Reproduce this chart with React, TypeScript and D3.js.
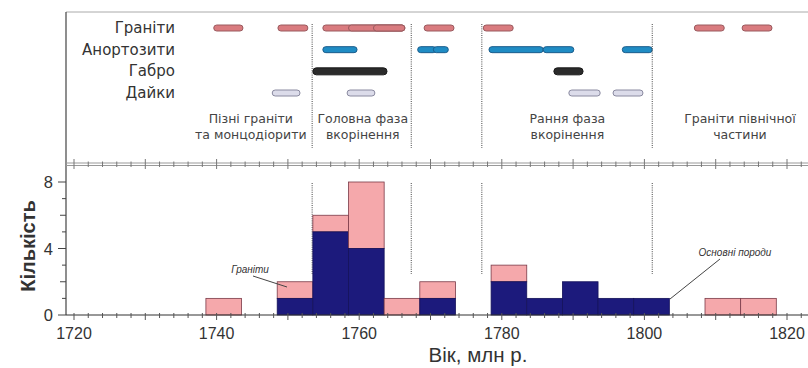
import React from "react";
import * as d3 from "d3";

// histogram bins (start year, 5 My wide)
const binStarts = [1738.5, 1748.5, 1753.5, 1758.5, 1763.5, 1768.5, 1778.5, 1783.5, 1788.5, 1793.5, 1798.5, 1808.5, 1813.5];
const basicCounts = [0, 1, 5, 4, 0, 1, 2, 1, 2, 1, 1, 0, 0];
const graniteCounts = [1, 1, 1, 4, 1, 1, 1, 0, 0, 0, 0, 1, 1];
const binWidth = 5;

const xTickLabels = [1720, 1740, 1760, 1780, 1800, 1820];
const yTickLabels = [0, 4, 8];

// age ranges by rock type (top panel)
const rockTypes = ["Граніти", "Анортозити", "Габро", "Дайки"];
const graniteRanges = [[1739.6, 1743.7], [1748.6, 1752.8], [1754.9, 1766.4], [1758.5, 1766.4], [1762.0, 1766.4], [1769.1, 1773.3], [1777.4, 1781.6], [1807.0, 1811.2], [1813.7, 1817.9]];
const anorthositeRanges = [[1754.9, 1759.7], [1768.2, 1770.8], [1770.4, 1772.5], [1778.2, 1785.8], [1785.8, 1790.1], [1796.9, 1801.1]];
const gabbroRanges = [[1753.5, 1763.9], [1787.3, 1791.4]];
const dykeRanges = [[1747.8, 1751.7], [1758.3, 1762.2], [1789.4, 1793.8], [1795.6, 1799.8]];

const phaseBounds = [1753.4, 1767.3, 1777.2, 1801.1];
const phaseLabels = [
  { x: 1744.8, lines: ["Пізні граніти", "та монцодіорити"] },
  { x: 1760.5, lines: ["Головна фаза", "вкорінення"] },
  { x: 1789.2, lines: ["Рання фаза", "вкорінення"] },
  { x: 1813.4, lines: ["Граніти північної", "частини"] },
];

const font = "'Liberation Sans', Arial, sans-serif";
const wideFont = "'DejaVu Sans', Verdana, sans-serif";

export default function App() {
  const x = d3.scaleLinear().domain([1720, 1820]).range([74, 787]);
  const y = d3.scaleLinear().domain([0, 8]).range([315, 182]);
  const rowY = d3.scalePoint().domain(rockTypes).range([28, 93]);

  const stacked = binStarts.map((s, i) => ({
    s,
    basic: basicCounts[i],
    total: basicCounts[i] + graniteCounts[i],
  }));

  const styles = [
    { ranges: graniteRanges, fill: "#d97b7f", stroke: "#9a5a5e", h: 6 },
    { ranges: anorthositeRanges, fill: "#1f8cc4", stroke: "#1b5d8c", h: 6 },
    { ranges: gabbroRanges, fill: "#2b2b2b", stroke: "#1a1a1a", h: 7 },
    { ranges: dykeRanges, fill: "#dcdcea", stroke: "#8a8aa0", h: 6 },
  ];

  const minor = d3.range(1720, 1823, 2);
  const major = d3.range(1720, 1821, 10);

  return (
    <svg width={808} height={368} style={{ position: "absolute", left: 0, top: 0, background: "#fff" }} fontFamily={font}>
      {/* frame */}
      <line x1={66} x2={808} y1={12} y2={12} stroke="#aaa" strokeWidth={1} />
      <line x1={66} x2={66} y1={12} y2={315} stroke="#444" strokeWidth={1.2} />

      {/* top panel labels */}
      {rockTypes.map((r) => (
        <text key={r} x={175} y={rowY(r)! + 5} textAnchor="end" fontSize={15} fontFamily={wideFont} fill="#333">{r}</text>
      ))}
      {styles.map((st, k) =>
        st.ranges.map((r, i) => (
          <rect key={k + "-" + i} x={x(r[0])} y={rowY(rockTypes[k])! - st.h / 2} width={x(r[1]) - x(r[0])} height={st.h}
            rx={st.h / 2} fill={st.fill} stroke={st.stroke} strokeWidth={1} />
        ))
      )}
      {phaseBounds.map((b) => (
        <g key={b}>
          <line x1={x(b)} x2={x(b)} y1={24} y2={148} stroke="#444" strokeDasharray="1 1.2" />
          <line x1={x(b)} x2={x(b)} y1={183} y2={274} stroke="#444" strokeDasharray="1 1.2" />
        </g>
      ))}
      {phaseLabels.map((p) => (
        <text key={p.x} x={x(p.x)} textAnchor="middle" fontSize={12.5} fontFamily={wideFont} fill="#444">
          <tspan x={x(p.x)} y={123}>{p.lines[0]}</tspan>
          <tspan x={x(p.x)} y={139}>{p.lines[1]}</tspan>
        </text>
      ))}

      {/* middle tick axis */}
      <line x1={66} x2={808} y1={163} y2={163} stroke="#999" />
      <line x1={66} x2={808} y1={165.5} y2={165.5} stroke="#999" />
      {minor.map((t) => (
        <line key={t} x1={x(t)} x2={x(t)} y1={major.includes(t) ? 159 : 161.5} y2={major.includes(t) ? 169 : 167} stroke="#777" />
      ))}

      {/* histogram */}
      {stacked.map((d) => (
        <g key={d.s}>
          {d.total > d.basic && (
            <rect x={x(d.s)} y={y(d.total)} width={x(d.s + binWidth) - x(d.s)} height={y(d.basic) - y(d.total)}
              fill="#f5a8ab" stroke="#7a3a48" strokeWidth={0.8} />
          )}
          {d.basic > 0 && (
            <rect x={x(d.s)} y={y(d.basic)} width={x(d.s + binWidth) - x(d.s)} height={y(0) - y(d.basic)}
              fill="#1c1a7c" stroke="#14125a" strokeWidth={0.8} />
          )}
        </g>
      ))}

      {/* bottom axis */}
      <line x1={66} x2={808} y1={315} y2={315} stroke="#333" strokeWidth={1.2} />
      {minor.map((t) => (
        <line key={t} x1={x(t)} x2={x(t)} y1={313} y2={major.includes(t) ? 320 : 318} stroke="#555" />
      ))}
      {xTickLabels.map((t) => (
        <text key={t} x={x(t)} y={339} textAnchor="middle" fontSize={16} fill="#333">{t}</text>
      ))}

      {/* y axis */}
      {d3.range(0, 9).map((t) => (
        <line key={t} x1={t % 4 === 0 ? 58 : t % 2 === 0 ? 60 : 62} x2={66} y1={y(t)} y2={y(t)} stroke="#444" />
      ))}
      {yTickLabels.map((t) => (
        <text key={t} x={53} y={y(t) + 6} textAnchor="end" fontSize={16.5} fill="#333">{t}</text>
      ))}

      {/* annotations */}
      <text x={250} y={273} textAnchor="middle" fontSize={10} fontStyle="italic" fill="#333">Граніти</text>
      <line x1={253} y1={276} x2={287} y2={287} stroke="#444" />
      <text x={735} y={256} textAnchor="middle" fontSize={10} fontStyle="italic" fill="#333">Основні породи</text>
      <line x1={720} y1={259} x2={670} y2={299} stroke="#444" />

      {/* axis titles */}
      <text transform="translate(35,246) rotate(-90)" textAnchor="middle" fontSize={20} fontWeight="bold" fill="#333">Кількість</text>
      <text x={478} y={362} textAnchor="middle" fontSize={20.5} fill="#333">Вік, млн р.</text>
    </svg>
  );
}
